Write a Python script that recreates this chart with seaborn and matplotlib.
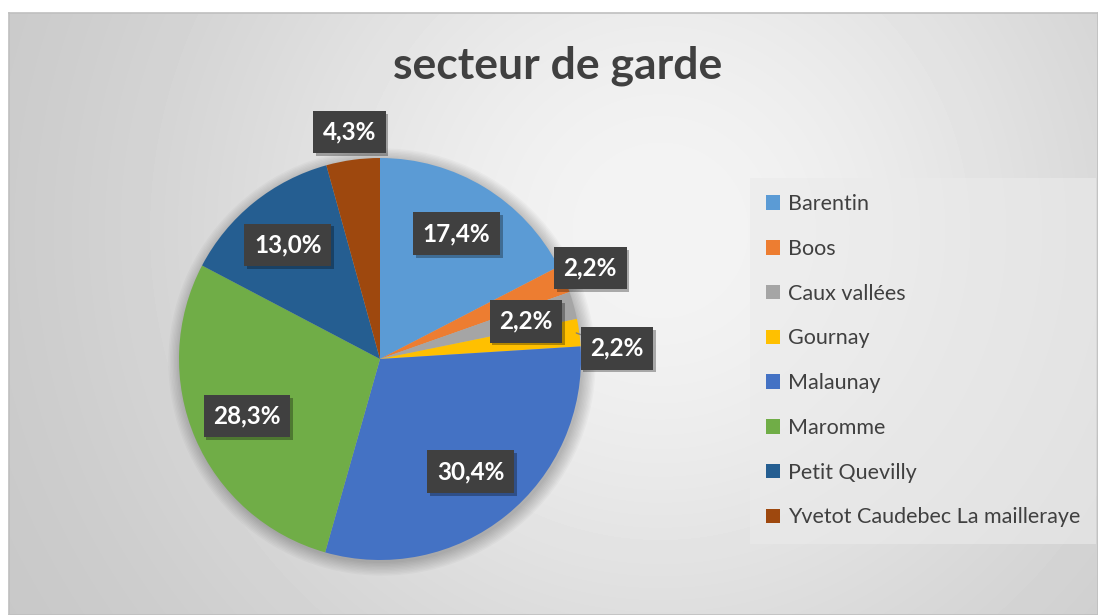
import numpy as np
import matplotlib
matplotlib.use('Agg')
import matplotlib.pyplot as plt
import matplotlib.patheffects as pe
from matplotlib.patches import Circle
import seaborn as sns

# %% donnees
secteurs = ['Barentin', 'Boos', 'Caux vallées', 'Gournay', 'Malaunay',
            'Maromme', 'Petit Quevilly', 'Yvetot Caudebec La mailleraye']
pourcentages = [17.4, 2.2, 2.2, 2.2, 30.4, 28.3, 13.0, 4.3]
titre = 'secteur de garde'

couleurs = ['#5B9BD5', '#ED7D31', '#A5A5A5', '#FFC000',
            '#4472C4', '#70AD47', '#255E91', '#9E480E']

# position des etiquettes (fraction du rayon, decalage d'angle)
rayon_etiquette = [0.73, 1.14, 0.75, 1.18, 0.72, 0.72, 0.73, 1.14]
decalage_angle = [0, 0, -1, -5, 0, 0, 0, 0]

# %%
sns.set_style('white')
plt.rcParams['font.family'] = ['Lato', 'DejaVu Sans']

W, H = 1098, 615
fig = plt.figure(figsize=(W / 100, H / 100), dpi=100)
fig.patch.set_facecolor('white')

# fond en degrade radial (gaussien, sans point brillant au centre)
fond = fig.add_axes([9 / W, 0, 1 - 9 / W, (H - 13) / H])
xx, yy = np.meshgrid(np.arange(9, W), np.arange(13, H))
dist = np.sqrt((xx - 660) ** 2 + (yy - 230) ** 2)
gris = 0.765 + (0.955 - 0.765) * np.exp(-(dist / 500) ** 2)
fond.imshow(gris, cmap='gray', vmin=0, vmax=1, aspect='auto', interpolation='bilinear')
fond.set_xticks([])
fond.set_yticks([])
for s in fond.spines.values():
    s.set_color('#bfbfbf')
    s.set_linewidth(1.2)

# camembert
cx, cy, r = 380, 359, 201
lim = 1.25
taille = 2 * lim * r
ax = fig.add_axes([(cx - taille / 2) / W, (H - cy - taille / 2) / H, taille / W, taille / H])
ax.set_facecolor('none')
ax.patch.set_alpha(0)

# ombre douce du camembert
for k in range(10):
    ax.add_patch(Circle((0.01, -0.015), 1.0 + 0.007 * k, color='black', alpha=0.022, lw=0, zorder=0))

wedges, _ = ax.pie(pourcentages, colors=couleurs, startangle=90, counterclock=False,
                   radius=1.0, wedgeprops=dict(linewidth=0, zorder=2))
ax.set_xlim(-lim, lim)
ax.set_ylim(-lim, lim)
ax.set_aspect('equal')
ax.axis('off')

boite = dict(boxstyle='square,pad=0.4', facecolor='#404040', edgecolor='none')
ombre = [pe.withSimplePatchShadow(offset=(2, -2), shadow_rgbFace='black', alpha=0.3)]

for i, w in enumerate(wedges):
    ang = np.deg2rad((w.theta1 + w.theta2) / 2 + decalage_angle[i])
    x = rayon_etiquette[i] * np.cos(ang)
    y = rayon_etiquette[i] * np.sin(ang)
    txt = f'{pourcentages[i]:.1f}%'.replace('.', ',')
    if secteurs[i] == 'Gournay':
        amid = np.deg2rad((w.theta1 + w.theta2) / 2)
        t = ax.annotate(txt, xy=(0.985 * np.cos(amid), 0.985 * np.sin(amid)), xytext=(x, y),
                        ha='center', va='center', color='white', fontsize=17.5, fontweight='bold',
                        bbox=boite, zorder=5,
                        arrowprops=dict(arrowstyle='-', color='#7f7f7f', lw=1, shrinkA=0, shrinkB=0))
    else:
        t = ax.text(x, y, txt, ha='center', va='center', color='white', fontsize=17.5,
                    fontweight='bold', bbox=boite, zorder=5)
    t.get_bbox_patch().set_path_effects(ombre)

# titre
fig.text(558 / W, 1 - 66 / H, titre, ha='center', va='center', fontsize=32,
         fontweight='bold', color='#404040')

# legende
leg = ax.legend(wedges, secteurs, loc='upper left',
                bbox_to_anchor=(750 / W, 1 - 178 / H), bbox_transform=fig.transFigure,
                borderaxespad=0, fontsize=15.5, frameon=True, fancybox=False,
                handlelength=0.65, handleheight=0.65, handletextpad=0.35,
                labelspacing=1.15, borderpad=0.75)
leg.get_frame().set_facecolor('#ebebeb')
leg.get_frame().set_alpha(0.6)
leg.get_frame().set_edgecolor('none')
for t in leg.get_texts():
    t.set_color('#404040')

fig.savefig('out.png', dpi=100)
